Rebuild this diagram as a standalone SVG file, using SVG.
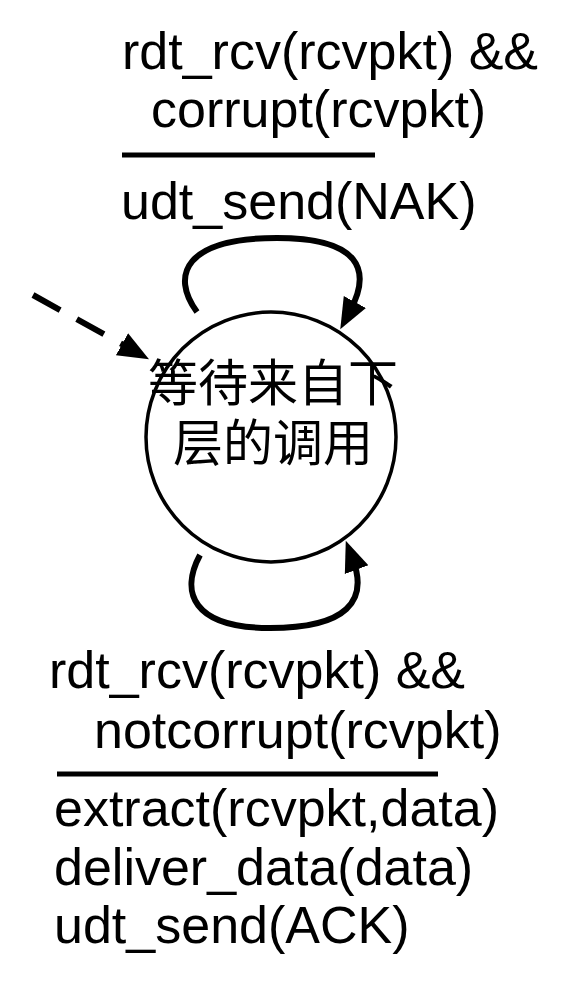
<svg xmlns="http://www.w3.org/2000/svg" width="578" height="992" viewBox="0 0 578 992">
<style>
.lbl{font-family:"Liberation Sans",Arial,sans-serif;font-size:52px;fill:#000}
.cjk{font-family:"Noto Sans CJK SC","Noto Sans",sans-serif;font-size:50px;fill:#000}
.bar{stroke:#000;stroke-width:5}
.edge{fill:none;stroke:#000;stroke-width:6}
.dash{stroke-dasharray:31 19}
</style>
<defs>
<marker id="ah" markerUnits="userSpaceOnUse" markerWidth="32" markerHeight="26" refX="9" refY="11" orient="auto" viewBox="0 0 28 22">
<path d="M0,0 L27,11 L0,22 z" fill="#000"/>
</marker>
</defs>
<rect width="578" height="992" fill="#fff"/>
<g id="state">
<circle cx="271" cy="437" r="125" fill="none" stroke="#000" stroke-width="3.5"/>
<text class="cjk" x="273" y="401" text-anchor="middle">等待来自下</text>
<text class="cjk" x="273" y="461" text-anchor="middle">层的调用</text>
</g>
<g id="connectors">
<path class="edge dash" d="M33,295 L131,349.2" marker-end="url(#ah)"/>
<path class="edge" d="M197,312 C170,275 185,238 277,238 C360,238 372,270 350,311" marker-end="url(#ah)"/>
<path class="edge" d="M200,555 C180,592 192,628 270,628 C348,628 368,600 353,560" marker-end="url(#ah)"/>
</g>
<g id="label-top">
<text class="lbl" x="122" y="69">rdt_rcv(rcvpkt) &amp;&amp;</text>
<text class="lbl" x="151" y="127">corrupt(rcvpkt)</text>
<line class="bar" x1="122" y1="155" x2="375" y2="155"/>
<text class="lbl" x="121" y="219">udt_send(NAK)</text>
</g>
<g id="label-bottom">
<text class="lbl" x="49" y="688">rdt_rcv(rcvpkt) &amp;&amp;</text>
<text class="lbl" x="94" y="748">notcorrupt(rcvpkt)</text>
<line class="bar" x1="57" y1="774" x2="438" y2="774"/>
<text class="lbl" x="54" y="826">extract(rcvpkt,data)</text>
<text class="lbl" x="54" y="885">deliver_data(data)</text>
<text class="lbl" x="54" y="943">udt_send(ACK)</text>
</g>
</svg>
